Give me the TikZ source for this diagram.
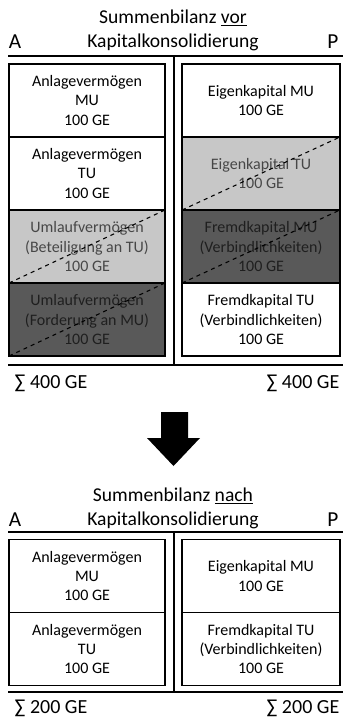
\documentclass[tikz,border=0pt]{standalone}
\usepackage{fontspec}
\setmainfont{Carlito}
\usetikzlibrary{positioning}

\begin{document}
\begin{tikzpicture}
  [x=0.75pt, y=-0.75pt,
   posten/.style={rectangle, draw=black, line width=0.9pt,
     outer sep=0pt, inner sep=1pt,
     minimum width=117pt, minimum height=54.75pt, align=center,
     font=\fontsize{12}{14.5}\selectfont},
   rposten/.style={posten, minimum width=118.5pt},
   hell/.style={fill=black!22, text=black!72},
   dunkel/.style={fill=black!65, text=black!88},
   kopf/.style={align=center, font=\fontsize{14.7}{18}\selectfont},
   seite/.style={font=\fontsize{16}{18}\selectfont},
   summe/.style={font=\fontsize{15}{18}\selectfont},
   trenn/.style={line width=2pt},
   streich/.style={dashed, line width=0.8pt}]

  \useasboundingbox (0,0) rectangle (345,720);

  % Summenbilanz vor Konsolidierung
  \node[kopf] (kopf1) at (173,30)
    {Summenbilanz \underline{vor}\\Kapitalkonsolidierung};
  \node[seite] (a1) at (15,42) {A};
  \node[seite] (p1) at (333,42) {P};

  \coordinate (ol1) at (8,56);
  \coordinate (or1) at (343,56);
  \coordinate (ul1) at (8,365);
  \coordinate (ur1) at (343,365);
  \coordinate (om1) at (174,56);
  \coordinate (um1) at (174,365);
  \draw[trenn] (ol1) -- (or1);
  \draw[trenn] (ul1) -- (ur1);
  \draw[trenn] (om1) -- (um1);

  % Aktiva
  \node[posten] (amu1) at (87,100.5)
    {Anlagevermögen\\MU\\100 GE};
  \node[posten, below=0pt of amu1] (atu1)
    {Anlagevermögen\\TU\\100 GE};
  \node[posten, hell, below=0pt of atu1] (ubet1)
    {Umlaufvermögen\\(Beteiligung an TU)\\100 GE};
  \node[posten, dunkel, below=0pt of ubet1] (ufor1)
    {Umlaufvermögen\\(Forderung an MU)\\100 GE};

  % Passiva
  \node[rposten] (emu1) at (261,100.5)
    {Eigenkapital MU\\100 GE};
  \node[rposten, hell, below=0pt of emu1] (etu1)
    {Eigenkapital TU\\100 GE};
  \node[rposten, dunkel, below=0pt of etu1] (fmu1)
    {Fremdkapital MU\\(Verbindlichkeiten)\\100 GE};
  \node[rposten, below=0pt of fmu1] (ftu1)
    {Fremdkapital TU\\(Verbindlichkeiten)\\100 GE};

  \draw[streich] (ubet1.south west) -- (ubet1.north east);
  \draw[streich] (ufor1.south west) -- (ufor1.north east);
  \draw[streich] (etu1.south west) -- (etu1.north east);
  \draw[streich] (fmu1.south west) -- (fmu1.north east);

  \node[summe, anchor=west] (sl1) at (10,383) {∑ 400 GE};
  \node[summe, anchor=east] (sr1) at (344,383) {∑ 400 GE};

  % Pfeil
  \fill (161,412) -- (188,412) -- (188,438) -- (200,438)
    -- (173.5,466) -- (147,438) -- (161,438) -- cycle;

  % Summenbilanz nach Konsolidierung
  \node[kopf] (kopf2) at (173,508.5)
    {Summenbilanz \underline{nach}\\Kapitalkonsolidierung};
  \node[seite] (a2) at (15,520) {A};
  \node[seite] (p2) at (333,520) {P};

  \coordinate (ol2) at (8,532);
  \coordinate (or2) at (343,532);
  \coordinate (ul2) at (8,692);
  \coordinate (ur2) at (343,692);
  \coordinate (om2) at (174,532);
  \coordinate (um2) at (174,692);
  \draw[trenn] (ol2) -- (or2);
  \draw[trenn] (ul2) -- (ur2);
  \draw[trenn] (om2) -- (um2);

  \node[posten] (amu2) at (87,576)
    {Anlagevermögen\\MU\\100 GE};
  \node[posten, below=0pt of amu2] (atu2)
    {Anlagevermögen\\TU\\100 GE};
  \node[rposten] (emu2) at (261,576)
    {Eigenkapital MU\\100 GE};
  \node[rposten, below=0pt of emu2] (ftu2)
    {Fremdkapital TU\\(Verbindlichkeiten)\\100 GE};

  \node[summe, anchor=west] (sl2) at (10,708) {∑ 200 GE};
  \node[summe, anchor=east] (sr2) at (344,708) {∑ 200 GE};
\end{tikzpicture}
\end{document}
